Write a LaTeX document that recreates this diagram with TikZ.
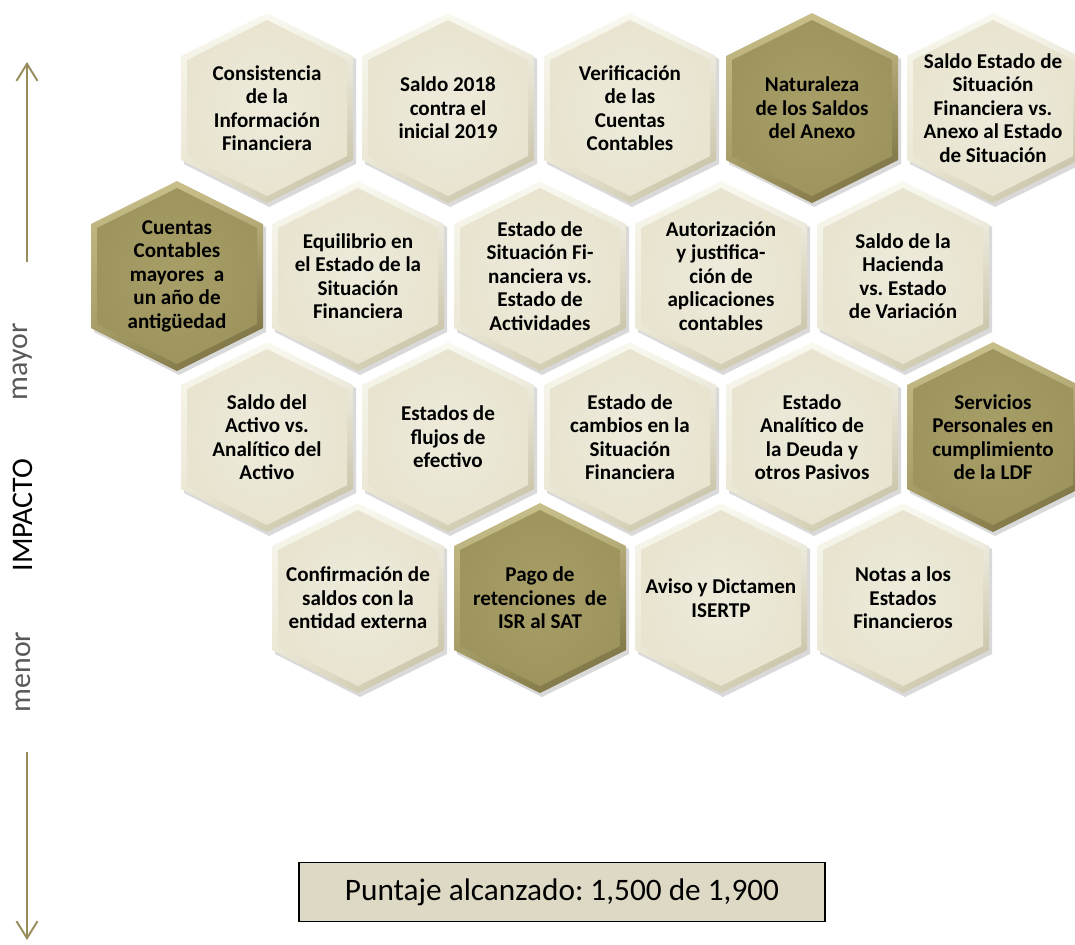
\documentclass[tikz,border=0pt]{standalone}
\usepackage{fontspec}
\setmainfont{Carlito}
\usetikzlibrary{arrows.meta,shadings}
\frenchspacing

\definecolor{paletop}{RGB}{250,249,240}
\definecolor{palebot}{RGB}{190,183,152}
\definecolor{palemid}{RGB}{232,228,208}
\definecolor{palein}{RGB}{238,235,220}
\definecolor{olivetop}{RGB}{200,191,138}
\definecolor{olivebot}{RGB}{110,100,55}
\definecolor{olivemid}{RGB}{158,148,94}
\definecolor{olivein}{RGB}{168,158,104}
\definecolor{axisolive}{RGB}{150,140,92}
\definecolor{scorefill}{RGB}{221,217,196}

\tikzset{
  hextext/.style={align=center, inner sep=0pt, font=\bfseries\fontsize{12}{13.4}\selectfont},
  axisline/.style={axisolive, line width=1.1pt, -{Straight Barb[length=0.34cm, width=0.42cm]}},
  axislabel/.style={rotate=90, inner sep=0pt, font=\fontsize{17}{20}\selectfont},
  scorebox/.style={draw=black, line width=1.1pt, fill=scorefill, minimum width=10.52cm,
    minimum height=1.18cm, font=\fontsize{17.8}{20}\selectfont}
}

% hexagon cell: name, x, y, tone, text
\newcommand{\hexcell}[5]{%
  \begin{scope}[shift={(#2,#3)}]
    \fill[black, opacity=0.15] (2,-92) -- (89,-49) -- (89,56) -- (2,99) -- (-83,56) -- (-83,-49) -- cycle;
    \shade[upper left=#4top, lower right=#4bot, upper right=#4top, lower left=#4mid]
      (0,-95) -- (86,-52) -- (86,52) -- (0,95) -- (-86,52) -- (-86,-52) -- cycle;
    \shade[inner color=#4in, outer color=#4mid]
      (0,-88) -- (80,-48) -- (80,48) -- (0,88) -- (-80,48) -- (-80,-48) -- cycle;
  \end{scope}
  \node[hextext] (#1) at (#2,#3) {#5};
}

\begin{document}
\begin{tikzpicture}[x=0.02cm, y=-0.02cm]
  \useasboundingbox (0,0) rectangle (1075,944);
  \clip (0,0) rectangle (1075,944);

  \hexcell{consistencia}{267}{108}{pale}{Consistencia\\de la\\Información\\Financiera}
  \hexcell{saldoinicial}{448}{108}{pale}{Saldo 2018\\contra el\\inicial 2019}
  \hexcell{verificacion}{630}{108}{pale}{Verificación\\de las\\Cuentas\\Contables}
  \hexcell{naturaleza}{812}{108}{olive}{Naturaleza\\de los Saldos\\del Anexo}
  \hexcell{saldoanexo}{993}{108}{pale}{Saldo Estado de\\Situación\\Financiera vs.\\Anexo al Estado\\de Situación}

  \hexcell{cuentas}{177}{276}{olive}{Cuentas\\Contables\\mayores\ \ a\\un año de\\antigüedad}
  \hexcell{equilibrio}{358}{276}{pale}{Equilibrio en\\el Estado de la\\Situación\\Financiera}
  \hexcell{actividades}{540}{276}{pale}{Estado de\\Situación Fi-\\nanciera vs.\\Estado de\\Actividades}
  \hexcell{autorizacion}{721}{276}{pale}{Autorización\\y justifica-\\ción de\\aplicaciones\\contables}
  \hexcell{hacienda}{903}{276}{pale}{Saldo de la\\Hacienda\\vs. Estado\\de Variación}

  \hexcell{activo}{267}{437}{pale}{Saldo del\\Activo vs.\\Analítico del\\Activo}
  \hexcell{flujos}{448}{437}{pale}{Estados de\\flujos de\\efectivo}
  \hexcell{cambios}{630}{437}{pale}{Estado de\\cambios en la\\Situación\\Financiera}
  \hexcell{deuda}{812}{437}{pale}{Estado\\Analítico de\\la Deuda y\\otros Pasivos}
  \hexcell{servicios}{993}{437}{olive}{Servicios\\Personales en\\cumplimiento\\de la LDF}

  \hexcell{confirmacion}{358}{598}{pale}{Confirmación de\\saldos con la\\entidad externa}
  \hexcell{retenciones}{540}{598}{olive}{Pago de\\retenciones\ \ de\\ISR al SAT}
  \hexcell{dictamen}{721}{598}{pale}{Aviso y Dictamen\\ISERTP}
  \hexcell{notas}{903}{598}{pale}{Notas a los\\Estados\\Financieros}

  \coordinate (uptail) at (27,262);
  \coordinate (uptip) at (27,62);
  \coordinate (downtail) at (27,752);
  \coordinate (downtip) at (27,940);
  \draw[axisline] (uptail) -- (uptip);
  \draw[axisline] (downtail) -- (downtip);

  \node[axislabel, text=black!65] (mayor) at (23,362) {mayor};
  \node[axislabel] (impacto) at (23,515) {IMPACTO};
  \node[axislabel, text=black!65] (menor) at (23,672) {menor};

  \node[scorebox] (puntaje) at (562,892) {Puntaje alcanzado: 1,500 de 1,900};
\end{tikzpicture}
\end{document}
